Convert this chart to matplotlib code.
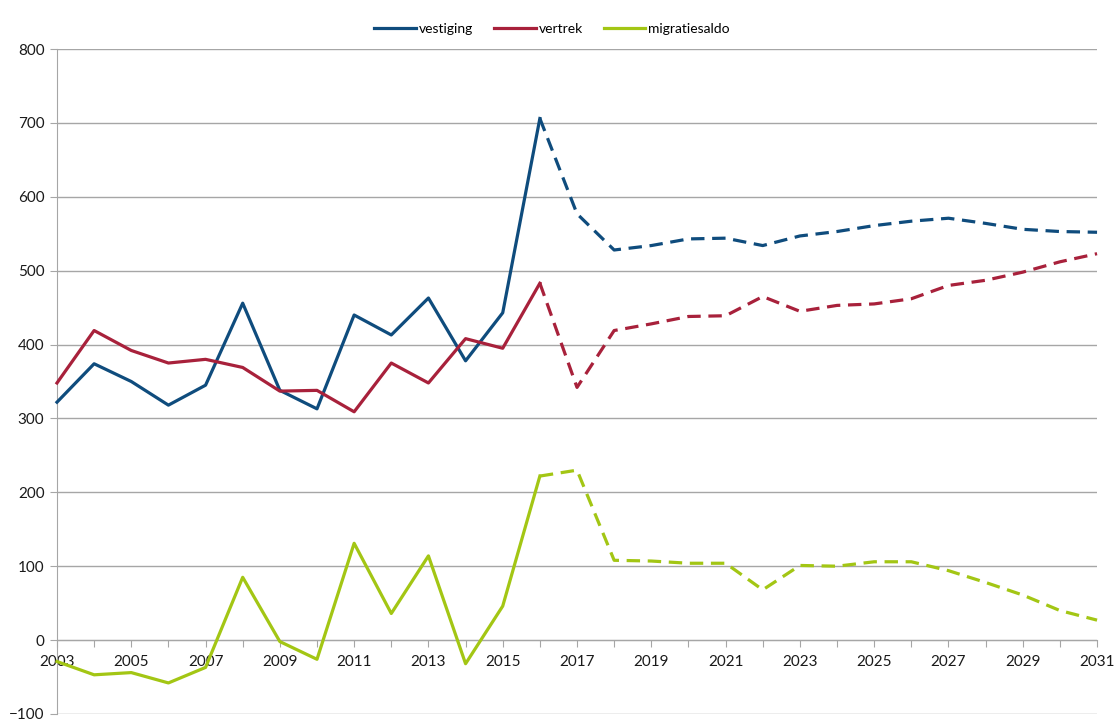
import matplotlib
matplotlib.use('Agg')
import matplotlib.pyplot as plt

plt.rcParams['font.family'] = ['Lato', 'DejaVu Sans']

years = list(range(2003, 2032))
vestiging = [322, 374, 350, 318, 345, 456, 338, 313, 440, 413, 463, 378, 443, 706,
             577, 528, 534, 543, 544, 534, 547, 553, 561, 567, 571, 564, 556, 553, 552]
vertrek = [348, 419, 392, 375, 380, 369, 337, 338, 309, 375, 348, 408, 395, 483,
           342, 419, 428, 438, 439, 465, 445, 453, 455, 462, 480, 487, 498, 512, 523]
migratiesaldo = [-29, -47, -44, -58, -37, 85, -2, -26, 131, 36, 114, -32, 46, 222,
                 230, 108, 107, 104, 104, 68, 101, 100, 106, 106, 94, 78, 61, 40, 27]

# last measured year, after that it is a forecast (dashed)
split = years.index(2016)

series = [
    ('vestiging', vestiging, '#0f4c7d'),
    ('vertrek', vertrek, '#a8213b'),
    ('migratiesaldo', migratiesaldo, '#a3c614'),
]

fig = plt.figure(figsize=(11.15, 7.19), dpi=100)
ax = fig.add_axes([0.0511, 0.0070, 0.9328, 0.9248])

for name, vals, col in series:
    ax.plot(years[:split + 1], vals[:split + 1], color=col, lw=2.3,
            label=name, zorder=3, clip_on=False)
    ax.plot(years[split:], vals[split:], color=col, lw=2.3,
            dashes=(4.2, 2.4), zorder=3, clip_on=False)

ax.set_xlim(2003, 2031)
ax.set_ylim(-100, 800)
ax.set_yticks(range(-100, 801, 100))
ax.set_xticks(years)
ax.set_xticklabels([str(y) if y % 2 == 1 else '' for y in years])

ax.grid(axis='y', color='#a6a6a6', lw=1)
ax.set_axisbelow(True)

for s in ['top', 'right']:
    ax.spines[s].set_visible(False)
ax.spines['bottom'].set_position(('data', 0))
ax.spines['bottom'].set_color('#a6a6a6')
ax.spines['left'].set_color('#a6a6a6')

ax.tick_params(axis='x', direction='out', length=5, color='#a6a6a6',
               labelsize=11, pad=6, labelcolor='#1a1a1a')
ax.tick_params(axis='y', direction='out', length=5, color='#a6a6a6',
               labelsize=11, pad=4, labelcolor='#1a1a1a')

ax.legend(loc='center', bbox_to_anchor=(0.476, 1.03), ncol=3, frameon=False,
          fontsize=10, handlelength=3.0, handletextpad=0.2, columnspacing=1.5)

fig.savefig('out.png', dpi=100)
